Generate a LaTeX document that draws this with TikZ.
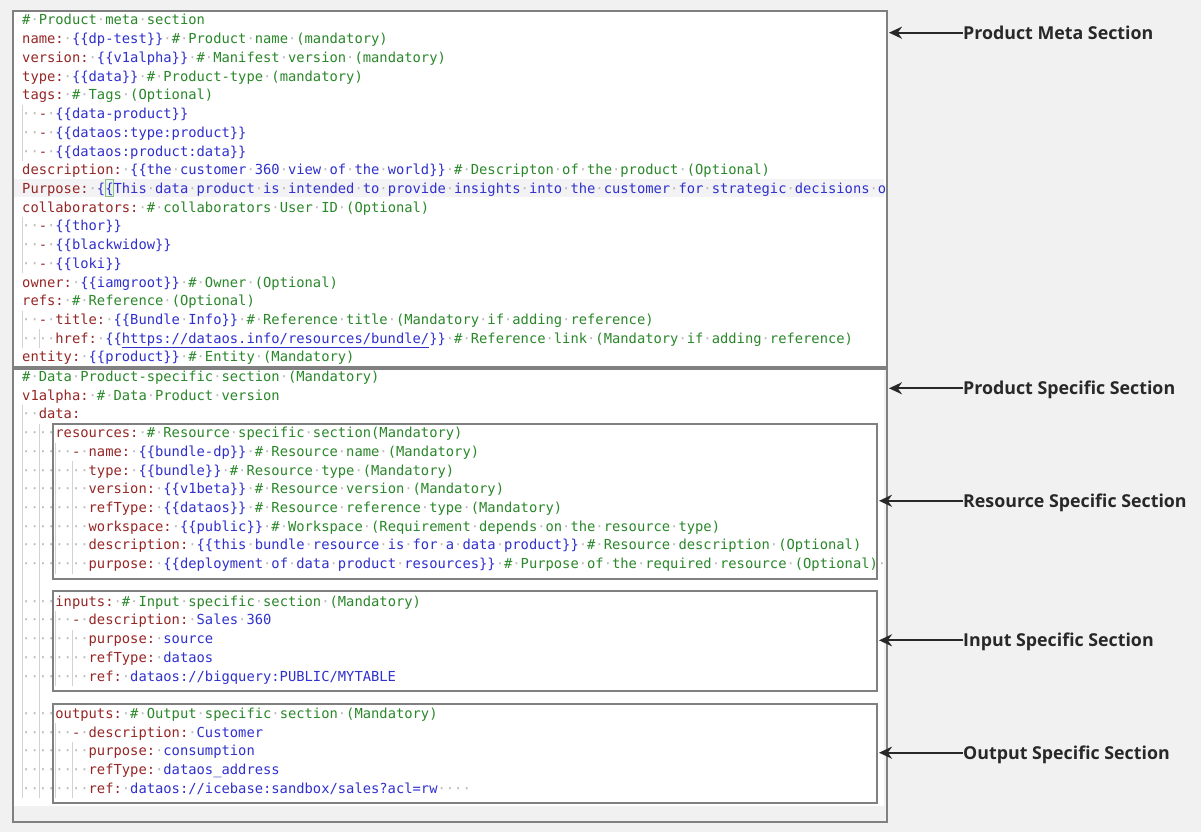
\documentclass[tikz,border=0pt]{standalone}
\usepackage{fontspec}
\setsansfont{Open Sans}
\setmonofont{DejaVu Sans Mono}
\usepackage{tikz}
\usetikzlibrary{arrows.meta,positioning}

\definecolor{bggrey}{RGB}{241,241,241}
\definecolor{framegrey}{RGB}{128,128,128}
\definecolor{keyred}{RGB}{150,38,38}
\definecolor{valblue}{RGB}{48,48,205}
\definecolor{cmtgreen}{RGB}{42,135,42}
\definecolor{dotgrey}{RGB}{185,185,185}
\definecolor{guidegrey}{RGB}{210,210,210}
\definecolor{curline}{RGB}{243,243,245}
\definecolor{inkgrey}{RGB}{40,40,40}

\newcommand{\ky}[1]{\textcolor{keyred}{#1}}
\newcommand{\vl}[1]{\textcolor{valblue}{#1}}
\newcommand{\cm}[1]{\textcolor{cmtgreen}{#1}}
\newcommand{\codefont}{\ttfamily\fontsize{13.8}{18.72}\selectfont}

% spaces of the listing are shown as small grey dots
\catcode`·=\active
\def·{\textcolor{dotgrey}{\char"00B7}}

\begin{document}
\begin{tikzpicture}
	[x=1pt, y=-1pt, inner sep=0pt,
	code/.style		= {anchor=base west, inner sep=0pt, font=\codefont},
	secbox/.style	= {rectangle, draw=framegrey, line width=2pt, anchor=north west, inner sep=0pt},
	tag/.style		= {anchor=west, inner sep=0pt, text=inkgrey, text height=13.3pt, text depth=0pt,
					   font=\sffamily\bfseries\fontsize{17.8}{20}\selectfont},
	guide/.style	= {draw=guidegrey, line width=0.8pt},
	paths/.style	= {->, >={Stealth[length=13pt, width=12pt]}, draw=inkgrey, line width=2.2pt, shorten >= 1pt}]
	
	\useasboundingbox [fill=bggrey] (0,0) rectangle (1201,832);
	
	\node at (12, 10)	[secbox, fill=white, minimum width=874, minimum height=356]	(meta)	{};
	\node at (12, 368)	[secbox, fill=bggrey, minimum width=874, minimum height=453]	(spec)	{};
	\fill [white] (14,370) rectangle (884,806);
	\node at (52, 423)	[secbox, fill=white, minimum width=824, minimum height=155]	(res)	{};
	\node at (52, 590)	[secbox, fill=white, minimum width=824, minimum height=100]	(inp)	{};
	\node at (52, 703)	[secbox, fill=white, minimum width=824, minimum height=99]	(outp)	{};
	
	\fill [curline] (14,178.6) rectangle (884,197.4);
	\draw [draw=cmtgreen!55, fill=cmtgreen!10, line width=0.8pt] (104.9,179.5) rectangle (112.9,196.5);
	
	\draw [guide] (22.5,104.8) -- (22.5,160.9);
	\draw [guide] (22.5,217.1) -- (22.5,273.3);
	\draw [guide] (22.5,310.7) -- (22.5,348.1);
	\draw [guide] (39.0,329.4) -- (39.0,348.1);
	\draw [guide] (22.5,405.1) -- (22.5,798.2);
	\draw [guide] (39.0,423.9) -- (39.0,798.2);
	\draw [guide] (55.6,442.6) -- (55.6,573.6);
	\draw [guide] (55.6,611.1) -- (55.6,685.9);
	\draw [guide] (55.6,723.4) -- (55.6,798.2);
	\draw [guide] (72.1,461.3) -- (72.1,573.6);
	\draw [guide] (72.1,629.8) -- (72.1,685.9);
	\draw [guide] (72.1,742.1) -- (72.1,798.2);
	
	\node at (22, 25.00)	[code]	(m1)	{\cm{\#·Product·meta·section}};
	\node at (22, 43.72)	[code]	(m2)	{\ky{name:}·\vl{\{\{dp-test\}\}}·\cm{\#·Product·name·(mandatory)}};
	\node at (22, 62.44)	[code]	(m3)	{\ky{version:}·\vl{\{\{v1alpha\}\}}·\cm{\#·Manifest·version·(mandatory)}};
	\node at (22, 81.16)	[code]	(m4)	{\ky{type:}·\vl{\{\{data\}\}}·\cm{\#·Product-type·(mandatory)}};
	\node at (22, 99.88)	[code]	(m5)	{\ky{tags:}·\cm{\#·Tags·(Optional)}};
	\node at (22, 118.60)	[code]	(m6)	{··\ky{-}·\vl{\{\{data-product\}\}}};
	\node at (22, 137.32)	[code]	(m7)	{··\ky{-}·\vl{\{\{dataos:type:product\}\}}};
	\node at (22, 156.04)	[code]	(m8)	{··\ky{-}·\vl{\{\{dataos:product:data\}\}}};
	\node at (22, 174.76)	[code]	(m9)	{\ky{description:}·\vl{\{\{the·customer·360·view·of·the·world\}\}}·\cm{\#·Descripton·of·the·product·(Optional)}};
	\node at (22, 193.48)	[code]	(m10)	{\ky{Purpose:}·\vl{\{\{This·data·product·is·intended·to·provide·insights·into·the·customer·for·strategic·decisions·o}};
	\node at (22, 212.20)	[code]	(m11)	{\ky{collaborators:}·\cm{\#·collaborators·User·ID·(Optional)}};
	\node at (22, 230.92)	[code]	(m12)	{··\ky{-}·\vl{\{\{thor\}\}}};
	\node at (22, 249.64)	[code]	(m13)	{··\ky{-}·\vl{\{\{blackwidow\}\}}};
	\node at (22, 268.36)	[code]	(m14)	{··\ky{-}·\vl{\{\{loki\}\}}};
	\node at (22, 287.08)	[code]	(m15)	{\ky{owner:}·\vl{\{\{iamgroot\}\}}·\cm{\#·Owner·(Optional)}};
	\node at (22, 305.80)	[code]	(m16)	{\ky{refs:}·\cm{\#·Reference·(Optional)}};
	\node at (22, 324.52)	[code]	(m17)	{··\ky{-·title:}·\vl{\{\{Bundle·Info\}\}}·\cm{\#·Reference·title·(Mandatory·if·adding·reference)}};
	\node at (22, 343.24)	[code]	(m18)	{····\ky{href:}·\vl{\{\{\underline{https://dataos.info/resources/bundle/}\}\}}·\cm{\#·Reference·link·(Mandatory·if·adding·reference)}};
	\node at (22, 361.96)	[code]	(m19)	{\ky{entity:}·\vl{\{\{product\}\}}·\cm{\#·Entity·(Mandatory)}};
	
	\node at (22, 381.50)	[code]	(p0)	{\cm{\#·Data·Product-specific·section·(Mandatory)}};
	\node at (22, 400.22)	[code]	(p1)	{\ky{v1alpha:}·\cm{\#·Data·Product·version}};
	\node at (22, 418.94)	[code]	(p2)	{··\ky{data:}};
	\node at (22, 437.66)	[code]	(p3)	{····\ky{resources:}·\cm{\#·Resource·specific·section(Mandatory)}};
	\node at (22, 456.38)	[code]	(p4)	{······\ky{-·name:}·\vl{\{\{bundle-dp\}\}}·\cm{\#·Resource·name·(Mandatory)}};
	\node at (22, 475.10)	[code]	(p5)	{········\ky{type:}·\vl{\{\{bundle\}\}}·\cm{\#·Resource·type·(Mandatory)}};
	\node at (22, 493.82)	[code]	(p6)	{········\ky{version:}·\vl{\{\{v1beta\}\}}·\cm{\#·Resource·version·(Mandatory)}};
	\node at (22, 512.54)	[code]	(p7)	{········\ky{refType:}·\vl{\{\{dataos\}\}}·\cm{\#·Resource·reference·type·(Mandatory)}};
	\node at (22, 531.26)	[code]	(p8)	{········\ky{workspace:}·\vl{\{\{public\}\}}·\cm{\#·Workspace·(Requirement·depends·on·the·resource·type)}};
	\node at (22, 549.98)	[code]	(p9)	{········\ky{description:}·\vl{\{\{this·bundle·resource·is·for·a·data·product\}\}}·\cm{\#·Resource·description·(Optional)}};
	\node at (22, 568.70)	[code]	(p10)	{········\ky{purpose:}·\vl{\{\{deployment·of·data·product·resources\}\}}·\cm{\#·Purpose·of·the·required·resource·(Optional)}·};
	\node at (22, 606.14)	[code]	(p12)	{····\ky{inputs:}·\cm{\#·Input·specific·section·(Mandatory)}};
	\node at (22, 624.86)	[code]	(p13)	{······\ky{-·description:}·\vl{Sales·360}};
	\node at (22, 643.58)	[code]	(p14)	{········\ky{purpose:}·\vl{source}};
	\node at (22, 662.30)	[code]	(p15)	{········\ky{refType:}·\vl{dataos}};
	\node at (22, 681.02)	[code]	(p16)	{········\ky{ref:}·\vl{dataos://bigquery:PUBLIC/MYTABLE}};
	\node at (22, 718.46)	[code]	(p18)	{····\ky{outputs:}·\cm{\#·Output·specific·section·(Mandatory)}};
	\node at (22, 737.18)	[code]	(p19)	{······\ky{-·description:}·\vl{Customer}};
	\node at (22, 755.90)	[code]	(p20)	{········\ky{purpose:}·\vl{consumption}};
	\node at (22, 774.62)	[code]	(p21)	{········\ky{refType:}·\vl{dataos\_address}};
	\node at (22, 793.34)	[code]	(p22)	{········\ky{ref:}·\vl{dataos://icebase:sandbox/sales?acl=rw}····};
	
	\node at (963, 32.7)	[tag]	(metalbl)	{Product Meta Section};
	\node at (963, 388.3)	[tag]	(speclbl)	{Product Specific Section};
	\node at (963, 500.8)	[tag]	(reslbl)	{Resource Specific Section};
	\node at (963, 640.3)	[tag]	(inplbl)	{Input Specific Section};
	\node at (963, 752.7)	[tag]	(outlbl)	{Output Specific Section};
	
	\draw [paths] (metalbl.west) -- (metalbl.west -| meta.east);
	\draw [paths] (speclbl.west) -- (speclbl.west -| spec.east);
	\draw [paths] (reslbl.west) -- (reslbl.west -| res.east);
	\draw [paths] (inplbl.west) -- (inplbl.west -| inp.east);
	\draw [paths] (outlbl.west) -- (outlbl.west -| outp.east);
\end{tikzpicture}
\end{document}
